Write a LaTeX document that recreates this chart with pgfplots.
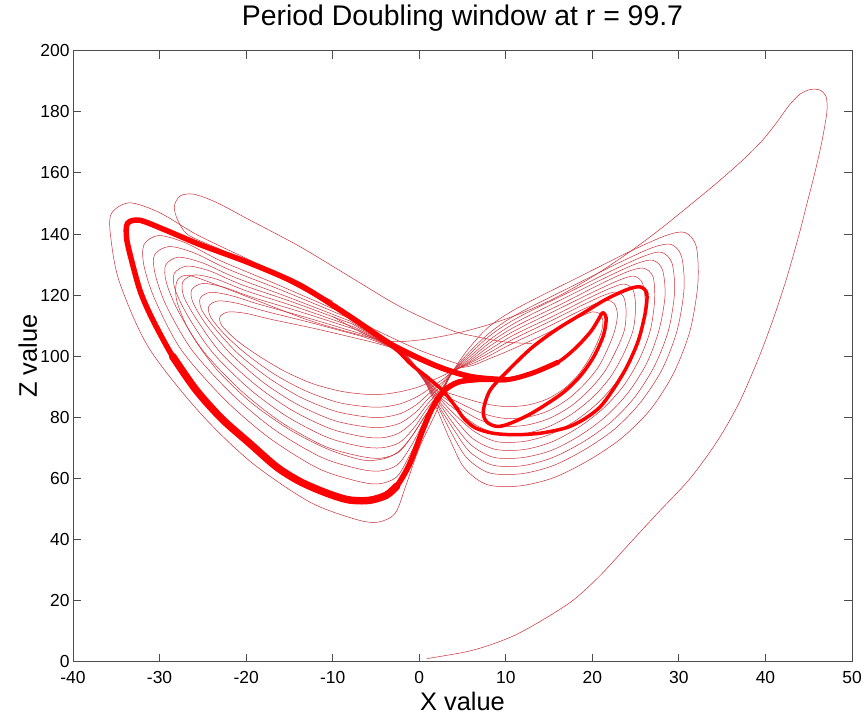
\documentclass[border=0pt]{standalone}
\usepackage{fontspec}
\setmainfont{Liberation Sans}
\usepackage{pgfplots}
\pgfplotsset{compat=1.18}
\definecolor{thinred}{RGB}{205,45,55}
\definecolor{thickred}{RGB}{255,0,0}
\pgfplotsset{
  thinline/.style={smooth, color=thinred, line width=0.5pt, mark=none},
  thickline/.style={smooth, color=thickred, line width=#1, mark=none, line cap=round, line join=round},
}
\begin{document}
\begin{tikzpicture}
\begin{axis}[
  scale only axis, width=779bp, height=611bp,
  xmin=-40, xmax=50, ymin=0, ymax=200,
  xtick={-40,-30,...,50}, ytick={0,20,...,200},
  tick pos=both, tick align=inside,
  major tick length=8bp,
  axis line style={black!70, line width=0.9pt},
  every tick/.style={black!70, line width=0.9pt},
  /pgf/number format/assume math mode=true,
  ticklabel style={font=\fontsize{17.5}{20}\selectfont},
  xticklabel style={anchor=base, yshift=-21.6bp},
  title={Period Doubling window at r = 99.7},
  title style={font=\fontsize{28.5}{33}\selectfont, at={(axis description cs:0.5,1)}, anchor=base, yshift=19bp},
  xlabel={X value},
  xlabel style={font=\fontsize{25.5}{30}\selectfont, at={(axis description cs:0.5,0)}, anchor=base, yshift=-48.3bp},
]
% ---- thin trajectory: alternating left / right loops ----
\addplot[thinline] coordinates {(-10,118) (-18.5,130) (-25.5,139.5) (-30,147) (-33.5,150.2) (-35.6,146.5) (-35.6,138) (-34.6,124) (-31.3,103) (-25.5,82) (-19.5,65.5) (-12.8,52.5) (-7.8,47) (-5,45.6) (-2.8,48.5) (-1.5,58) (0,70) (2,82) (3.3,92) (5.3,101) (8,109.5) (11.5,116) (18.5,126) (24.5,134.5) (28.5,139.5) (30.7,140.5) (32,136) (32.2,124) (31.3,108.5) (29.4,94.5) (26.7,82.5) (23.3,73) (19.5,65.8) (15.5,60.2) (11.5,57.5) (7.8,58) (5.2,63.5) (3.5,73) (2,83) (0.6,91.8) (-2,100) (-8.8,114.1)};
\addplot[thinline] coordinates {(-8.8,114.1) (-16.6,123.7) (-23,131.3) (-27,137.1) (-30.1,139.5) (-31.8,136.5) (-31.8,129.6) (-30.5,118.3) (-27.5,102.1) (-22.5,85.9) (-17.3,73.2) (-11.7,63.3) (-7.3,59.2) (-4.7,58.2) (-2.6,60.5) (-1.1,67.6) (0.5,76.6) (2.3,85.6) (3.5,93.5) (5.5,100.5) (8.2,107.8) (11.4,113.9) (17.8,123.1) (23.3,130.9) (27,135.6) (29.1,136.6) (30.3,132.7) (30.6,122.2) (29.8,108.5) (28.1,95.9) (25.6,85) (22.6,76.2) (19.1,69.4) (15.4,64.1) (11.7,61.5) (8.1,61.8) (5.5,66.7) (3.7,75) (2.1,83.9) (0.6,92) (-2,100.2) (-8.4,112.8)};
\addplot[thinline] coordinates {(-8.4,112.8) (-15.9,121.6) (-22.1,128.5) (-26,133.8) (-28.9,135.9) (-30.6,133.1) (-30.5,126.8) (-29.2,116.4) (-26.2,101.8) (-21.5,87.2) (-16.6,75.7) (-11.3,66.9) (-7.1,63.2) (-4.6,62.4) (-2.5,64.5) (-0.9,70.8) (0.6,78.8) (2.4,86.8) (3.6,94) (5.6,100) (8.2,106.8) (11.3,112.5) (17.4,121.1) (22.6,128.5) (26.1,132.9) (28,134) (29.2,130.5) (29.5,121) (28.8,108.5) (27.2,96.9) (24.9,86.6) (22.1,78.3) (18.8,71.7) (15.3,66.7) (11.8,64.1) (8.4,64.4) (5.8,68.8) (3.9,76.4) (2.1,84.5) (0.6,92.2) (-2,100.4) (-8,111.5)};
\addplot[thinline] coordinates {(-8,111.5) (-15.3,119.5) (-21.3,125.8) (-25,130.5) (-27.8,132.4) (-29.3,129.8) (-29.2,124) (-27.8,114.5) (-24.9,101.5) (-20.5,88.5) (-15.9,78.3) (-10.9,70.5) (-6.9,67.3) (-4.5,66.6) (-2.4,68.5) (-0.8,74) (0.8,81) (2.5,88) (3.7,94.3) (5.7,99.5) (8.2,105.5) (11.2,111.1) (16.9,119.2) (21.8,126.1) (25.1,130.3) (27,131.4) (28.1,128.3) (28.4,119.8) (27.7,108.5) (26.3,97.8) (24.2,88.3) (21.6,80.4) (18.6,74.1) (15.3,69.2) (11.9,66.8) (8.6,66.9) (6,70.9) (4,77.7) (2.2,85.1) (0.6,92.3) (-2,100.5) (-7.7,110.5)};
\addplot[thinline] coordinates {(-7.7,110.5) (-14.7,117.8) (-20.6,123.5) (-24.2,127.9) (-26.8,129.5) (-28.3,127.1) (-28.2,121.8) (-26.7,113) (-23.9,101.3) (-19.7,89.5) (-15.3,80.3) (-10.6,73.4) (-6.8,70.5) (-4.4,70) (-2.3,71.7) (-0.6,76.6) (0.9,82.8) (2.6,89) (3.8,94.5) (5.8,99) (8.2,104.5) (11.1,109.7) (16.5,117.2) (21,123.7) (24.1,127.7) (25.9,128.8) (27,126.1) (27.2,118.6) (26.7,108.5) (25.4,98.8) (23.5,89.9) (21.1,82.5) (18.3,76.5) (15.2,71.8) (12,69.4) (8.8,69.5) (6.2,73) (4.2,79.1) (2.2,85.7) (0.6,92.5) (-2,100.7) (-7.4,109.4)};
\addplot[thinline] coordinates {(-7.4,109.4) (-14.2,116.1) (-19.9,121.3) (-23.4,125.2) (-25.9,126.6) (-27.3,124.4) (-27.2,119.5) (-25.6,111.5) (-22.9,101) (-18.9,90.6) (-14.7,82.3) (-10.3,76.3) (-6.6,73.7) (-4.3,73.3) (-2.3,74.9) (-0.5,79.1) (1,84.5) (2.7,89.9) (3.9,94.6) (5.9,98.6) (8.2,103.4) (11,108.3) (16,115.3) (20.3,121.3) (23.2,125) (24.8,126.2) (25.8,123.9) (26.1,117.4) (25.7,108.5) (24.5,99.7) (22.8,91.6) (20.6,84.6) (18,78.8) (15.1,74.4) (12.1,72.1) (9,72) (6.5,75.1) (4.3,80.4) (2.3,86.3) (0.6,92.6) (-2,100.8) (-7,108.4)};
\addplot[thinline] coordinates {(-7,108.4) (-13.7,114.5) (-19.2,119.2) (-22.6,122.6) (-25,123.8) (-26.3,121.7) (-26.1,117.3) (-24.5,109.9) (-21.8,100.8) (-18.1,91.6) (-14.2,84.4) (-10,79.1) (-6.5,77) (-4.3,76.7) (-2.2,78.1) (-0.4,81.7) (1.1,86.3) (2.7,90.9) (4,95) (6,98.3) (8.2,102.3) (10.9,106.9) (15.6,113.3) (19.5,118.9) (22.2,122.4) (23.7,123.6) (24.7,121.7) (25,116.2) (24.7,108.5) (23.6,100.7) (22.1,93.2) (20.1,86.7) (17.7,81.2) (15,77) (12.2,74.7) (9.2,74.6) (6.7,77.2) (4.5,81.8) (2.3,86.9) (0.6,92.8) (-2,101) (-6.7,107.3)};
\addplot[thinline] coordinates {(-6.7,107.3) (-13.2,112.8) (-18.5,117) (-21.8,119.9) (-24.1,120.9) (-25.3,119) (-25.1,115) (-23.4,108.4) (-20.8,100.5) (-17.3,92.7) (-13.6,86.4) (-9.7,82) (-6.3,80.2) (-4.2,80) (-2.1,81.3) (-0.3,84.2) (1.2,88) (2.8,91.8) (4,95.3) (6,97.9) (8.2,101.3) (10.8,105.5) (15.1,111.4) (18.7,116.5) (21.2,119.8) (22.7,121) (23.6,119.5) (23.9,115) (23.7,108.5) (22.7,101.6) (21.4,94.9) (19.6,88.8) (17.5,83.6) (15,79.6) (12.3,77.4) (9.5,77.1) (6.9,79.3) (4.6,83.1) (2.4,87.5) (0.6,92.9) (-2,101.1) (-6.4,106.3)};
\addplot[thinline] coordinates {(-6.4,106.3) (-12.7,111.1) (-17.9,114.8) (-21,117.3) (-23.2,118.1) (-24.3,116.4) (-24.1,112.8) (-22.4,106.9) (-19.8,100.3) (-16.5,93.7) (-13,88.5) (-9.4,84.9) (-6.2,83.5) (-4.1,83.4) (-2.1,84.5) (-0.2,86.8) (1.4,89.8) (2.9,92.8) (4.1,95.6) (6.1,97.5) (8.2,100.3) (10.7,104.1) (14.7,109.4) (18,114.1) (20.3,117.1) (21.6,118.4) (22.5,117.3) (22.9,113.8) (22.6,108.5) (21.8,102.6) (20.7,96.5) (19.1,90.9) (17.2,86) (14.9,82.1) (12.4,80) (9.7,79.7) (7.2,81.4) (4.8,84.5) (2.4,88.1) (0.6,93.1) (-2,101.3) (-6,105)};
\addplot[thinline] coordinates {(-6,105) (-12,109) (-17,112) (-20,114) (-22,114.5) (-23,113) (-22.8,110) (-21,105) (-18.5,100) (-15.5,95) (-12.3,91) (-9,88.5) (-6,87.5) (-4,87.6) (-2,88.5) (0,90) (1.5,92) (3,94) (4.2,95.8) (6.2,97) (8.2,99.3) (10.5,102) (14,106.5) (16.8,110.5) (18.8,113.2) (20,114.5) (20.8,114) (21.2,112) (21.1,108.5) (20.5,104) (19.6,99) (18.4,94) (16.8,89.5) (14.8,86) (12.5,84) (10,83.5) (7.5,84.5) (5,86.5) (2.5,89) (0.6,93.3) (-2,101.5) (-6.5,107.5) (-10,113)};
% ---- transient from the start ----
\addplot[thinline] coordinates {(0.9,1) (3.2,2.1) (5.2,3.1) (7,4.4) (9.1,6.4) (11,8.6) (13,11.6) (15.5,15.8) (18,20.6) (21,28.5) (24.4,39) (27.5,48.5) (31.3,60) (34.5,72.5) (37,85) (39.3,100) (41,113) (42.5,126) (43.9,140) (44.8,150) (45.7,160) (46.5,170) (47.1,180) (47,185) (46.3,187.1) (45.2,187.3) (44,185.8) (42.7,182) (41.3,176.5) (39.6,170.5) (37.3,164) (34.5,157) (31.3,149.5) (27.8,141.5) (24,133.5) (20,126) (16,119.5) (12,114.3) (8,110.3) (4,107.3) (0,105.3) (-3.5,104.9) (-8,107.8) (-13,112) (-19,118.5) (-24,124) (-26.8,126.5) (-28,124.5) (-28,118) (-26.5,108) (-23.5,96) (-19.5,85) (-15,76) (-10.5,69.5) (-6.5,66) (-4,66.5) (-2.3,69) (-0.8,74) (0.8,81) (3,89)};
% ---- upper-left excursion ----
\addplot[thinline] coordinates {(5,97) (0,102) (-6,110) (-12,119.5) (-18,128.5) (-23,135) (-26.7,139.7) (-27.9,144.6) (-28.3,149) (-27.6,152.5) (-26,153) (-23.4,150.3) (-19.6,144.6) (-13.8,135.9) (-8,126) (-2.2,116.2) (3.6,108.6) (6.6,106.4) (10,104.6) (13,104.2)};
% ---- thick (period-doubled) orbit ----
\addplot[thickline=5.5pt] coordinates {(10,92.3) (6,93.3) (2,96.8) (-3,103.5) (-8,113) (-13.8,123.3) (-19.6,130.5) (-25.3,136.5) (-29.5,141.5) (-32.3,144.5) (-33.7,143.5) (-33.8,138.5) (-33.2,131) (-32.2,121) (-30.8,112) (-28.5,100) (-25.8,89) (-22.8,79.5) (-19.6,71.5) (-16.5,63.8) (-13.8,59) (-10.8,55.3) (-8.2,53) (-5.8,52.8) (-3.8,54.5) (-2.6,57.5) (-1.5,62.5) (-0.7,67.5) (0.4,75.8) (1.5,83) (2.8,88.5) (4.5,91.5) (7,92.4) (10,92.3)};
\addplot[thickline=7.5pt] coordinates {(-28.5,100) (-25.8,89) (-22.8,79.5) (-19.6,71.5) (-16.5,63.8) (-13.8,59) (-10.8,55.3) (-8.2,53) (-5.8,52.8) (-3.8,54.5) (-2.6,57.5)};
\addplot[thickline=3.5pt] coordinates {(4.5,91.5) (7,92.2) (10,92.3) (13.1,94.5) (16,98) (18,102.5) (19.8,108) (20.8,112.5) (21.2,114.3) (21.6,112.5) (21.3,107) (20.2,100) (18.6,93.5) (16.5,87.8) (13.1,81.5) (10.5,78) (9,77) (7.8,78.5) (7.4,82) (8.2,88.9) (10.5,96) (13.1,103) (16,109) (18.9,114) (21.5,118.5) (24,121.8) (25.5,122.7) (26.3,120.5) (26.1,114) (25.3,105) (24,96.6) (22.5,89.5) (20.9,83.4) (19,79.3) (17,76.6) (14,74.8) (11,74.3) (8.5,74.8) (6.5,76.5) (5.2,79.5) (4.2,83.5) (2.8,88.5) (1,93) (-1,97.5) (-3,103.5)};
\addplot[thickline=5pt] coordinates {(-3,103.5) (2,96.8) (6,93.3) (10,92.3) (13.1,94.5) (16,98)};
\end{axis}
% ---- y axis label ----
\node[rotate=90, anchor=base, font=\fontsize{25.5}{30}\selectfont] at ([xshift=-36bp]current axis.west) {Z value};
\pgfresetboundingbox
\path[use as bounding box] ([xshift=-73bp,yshift=-53.3bp]current axis.south west) rectangle ([xshift=13bp,yshift=50.7bp]current axis.north east);
\end{tikzpicture}
\end{document}
